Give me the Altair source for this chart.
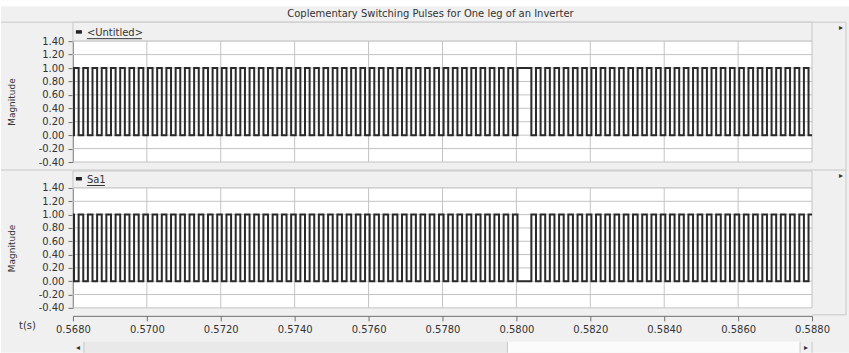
import altair as alt
import pandas as pd

# ---------------- data ----------------
TITLE = "Coplementary Switching Pulses for One leg of an Inverter"
PANEL_NAMES = ["<Untitled>", "Sa1"]
X_TICKS = [0.5680, 0.5700, 0.5720, 0.5740, 0.5760, 0.5780, 0.5800,
           0.5820, 0.5840, 0.5860, 0.5880]
Y_TICKS = [1.40, 1.20, 1.00, 0.80, 0.60, 0.40, 0.20, 0.00, -0.20, -0.40]
T_START = 0.568
T_END = 0.588

# switching instants, in microseconds after T_START
RISE_US = [30, 280, 530, 780, 1030, 1280, 1530, 1780, 2030, 2280,
           2530, 2780, 3030, 3280, 3530, 3780, 4030, 4280, 4530, 4780,
           5030, 5280, 5530, 5780, 6030, 6280, 6530, 6780, 7030, 7280,
           7530, 7780, 8030, 8280, 8530, 8780, 9030, 9280, 9530, 9780,
           10030, 10280, 10530, 10780, 11030, 11280, 11530, 11780, 12030,
           12530, 12780, 13030, 13280, 13530, 13780, 14030, 14280, 14530,
           14780, 15030, 15280, 15530, 15780, 16030, 16280, 16530, 16780,
           17030, 17280, 17530, 17780, 18030, 18280, 18530, 18780, 19030,
           19280, 19530, 19780]
FALL_US = [155, 405, 655, 905, 1155, 1405, 1655, 1905, 2155, 2405,
           2655, 2905, 3155, 3405, 3655, 3905, 4155, 4405, 4655, 4905,
           5155, 5405, 5655, 5905, 6155, 6405, 6655, 6905, 7155, 7405,
           7655, 7905, 8155, 8405, 8655, 8905, 9155, 9405, 9655, 9905,
           10155, 10405, 10655, 10905, 11155, 11405, 11655, 11905,
           12405, 12655, 12905, 13155, 13405, 13655, 13905, 14155, 14405,
           14655, 14905, 15155, 15405, 15655, 15905, 16155, 16405, 16655,
           16905, 17155, 17405, 17655, 17905, 18155, 18405, 18655, 18905,
           19155, 19405, 19655, 19905]
START_LEVEL = [0, 1]      # Untitled starts low, Sa1 (complement) starts high


def pulse_frame(start_level, inverted):
    events = sorted([(u, 1) for u in RISE_US] + [(u, 0) for u in FALL_US])
    rows = [{"t": T_START, "v": start_level}]
    for u, lvl in events:
        rows.append({"t": T_START + u * 1e-6, "v": (1 - lvl) if inverted else lvl})
    rows.append({"t": T_END, "v": rows[-1]["v"]})
    df = pd.DataFrame(rows)
    df["i"] = range(len(df))
    return df


# ---------------- style ----------------
FONT = "DejaVu Sans"
TXT = "#333333"
AXC = "#6e6e6e"
GRID = "#c3c3c3"
BG = "#f0f0f0"
BORDER = "#c8c8c8"
W = 740
DUMMY = pd.DataFrame({"k": [0]})

xscale = alt.Scale(domain=[T_START, T_END], nice=False, zero=False)
yscale = alt.Scale(domain=[-0.4, 1.4], nice=False, zero=False)


def rect(x, x2, y, y2, fill, stroke=None):
    kw = {"fill": fill}
    if stroke:
        kw.update(stroke=stroke, strokeWidth=1)
    return alt.Chart(DUMMY).mark_rect(**kw).encode(
        x=alt.value(x), x2=alt.value(x2), y=alt.value(y), y2=alt.value(y2))


def hline(x, x2, y, color=BORDER, w=1):
    return alt.Chart(DUMMY).mark_rule(color=color, strokeWidth=w).encode(
        x=alt.value(x), x2=alt.value(x2), y=alt.value(y))


def vline(x, y, y2, color=BORDER, w=1):
    return alt.Chart(DUMMY).mark_rule(color=color, strokeWidth=w).encode(
        x=alt.value(x), y=alt.value(y), y2=alt.value(y2))


def label(x, y, text, size=10, align="left", color=TXT):
    return alt.Chart(DUMMY).mark_text(
        font=FONT, fontSize=size, align=align, baseline="middle", color=color
    ).encode(x=alt.value(x), y=alt.value(y), text=alt.value(text))


def y_axis():
    return alt.Axis(values=Y_TICKS, title="Magnitude",
                    labelExpr="replace(format(datum.value, '.2f'), '\u2212', '-')",
                    titleX=-56, titleFont=FONT, titleFontSize=9,
                    titleFontWeight="normal", titleColor=TXT,
                    labelFont=FONT, labelFontSize=10, labelColor=TXT,
                    labelPadding=4, tickSize=5, tickColor=AXC,
                    domainColor=AXC, grid=False, labelOverlap=False,
                    labelFlush=False)


def x_axis_bottom():
    return alt.Axis(values=X_TICKS, format=".4f", title="t(s)",
                    titleX=-46, titleY=10, titleAngle=0, titleAlign="center",
                    titleBaseline="middle", titleFont=FONT, titleFontSize=10,
                    titleFontWeight="normal", titleColor=TXT,
                    labelFont=FONT, labelFontSize=10, labelColor=TXT,
                    labelPadding=4, tickSize=5, tickColor=AXC, domainColor=AXC,
                    offset=8, grid=False, labelOverlap=False, labelFlush=False)


def panel(idx, height, show_x):
    df = pulse_frame(START_LEVEL[idx], inverted=(idx == 1))
    xax = x_axis_bottom() if show_x else None
    X = alt.X("t:Q", scale=xscale, axis=xax)
    Y = alt.Y("v:Q", scale=yscale, axis=y_axis())
    vgrid = alt.Chart(pd.DataFrame({"t": X_TICKS})).mark_rule(
        color=GRID, strokeWidth=1).encode(x=X)
    hgrid = alt.Chart(pd.DataFrame({"v": Y_TICKS})).mark_rule(
        color=GRID, strokeWidth=1).encode(y=Y)
    line = alt.Chart(df).mark_line(
        interpolate="step-after", color="#2a2a2a", strokeWidth=2
    ).encode(x=X, y=Y, order="i:Q")
    layers = [vgrid, hgrid, line]
    return alt.layer(*layers).properties(
        width=W, height=height,
        view=alt.ViewBackground(fill="white", strokeWidth=0))


# row 0: title strip (top at canvas y=4)
row0 = alt.layer(
    rect(-72, 777, -4, 349, BG),
    rect(-72, 777, -4, 2, "white"),
    hline(-72, 774, 18),
    vline(774, 18, 311),
    label(358, 10, TITLE, size=10, align="center"),
).properties(width=W, height=18)

# row 1: legend header of the first panel
row1 = alt.layer(
    rect(0, 740, 0, 19, BG, BORDER),
    rect(3, 9, 8, 11.5, "#222222"),
    label(14, 11, PANEL_NAMES[0], size=10),
    hline(14, 69, 16.5, color=TXT),
    label(769, 6, "\u25b8", size=8, align="center"),
).properties(width=W, height=19)

# row 3: separator + legend header of the second panel
row3 = alt.layer(
    hline(-72, 774, 8),
    rect(0, 740, 9, 26, BG, BORDER),
    rect(3, 9, 15, 18.5, "#222222"),
    label(14, 18, PANEL_NAMES[1], size=10),
    hline(14, 32, 23.5, color=TXT),
    label(769, 14, "\u25b8", size=8, align="center"),
).properties(width=W, height=26)

p1 = panel(0, 121, False)
p2_base = panel(1, 120, True)
# scrollbar decoration under the bottom axis
scroll = alt.layer(
    rect(11, 435, 154, 165, "#e9e9e9"),
    rect(435, 728, 154, 165, "#fbfbfb"),
    vline(11, 154, 165),
    vline(435, 154, 165),
    vline(728, 154, 165),
    vline(740, 154, 165),
    label(5, 160, "\u25c2", size=8, align="center"),
    label(734, 160, "\u25b8", size=8, align="center"),
    hline(740, 774, 127),
)
p2 = alt.layer(p2_base, scroll).properties(
    width=W, height=120,
    view=alt.ViewBackground(fill="white", strokeWidth=0))

chart = alt.vconcat(row0, row1, p1, row3, p2, spacing=0, bounds="flush").properties(
    padding=0, background="white"
).configure_view(strokeWidth=0)

chart.save("out.html", embed_options={"renderer": "svg", "actions": False})
